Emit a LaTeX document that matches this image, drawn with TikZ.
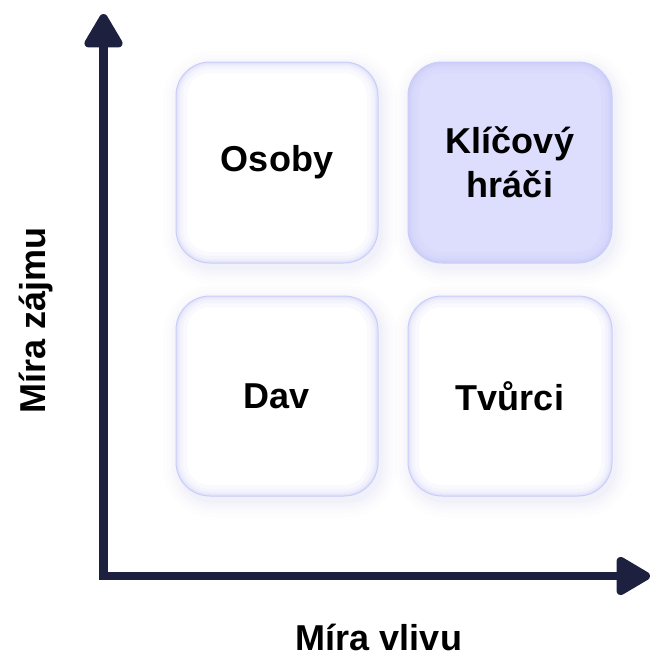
\documentclass[tikz,border=0pt]{standalone}
\usepackage{fontspec}
\setmainfont{Liberation Sans}
\usetikzlibrary{arrows.meta}
\definecolor{axisc}{HTML}{1E2040}
\definecolor{edgec}{HTML}{C9CDF9}
\definecolor{glowc}{HTML}{B4B8F4}
\definecolor{keyfill}{HTML}{DDDEFD}
\tikzset{
  x=1pt, y=-1pt,
  label/.style={font=\bfseries\fontsize{36}{44}\selectfont, text=black, align=center},
  axis/.style={draw=axisc, line width=8.5pt, line join=miter,
    {Triangle[length=38pt,width=42pt,round]}-{Triangle[length=38pt,width=42pt,round]}},
}
% soft card: x1 y1 x2 y2 fill name text
\newcommand\card[7]{%
  \foreach \d/\o in {16/0.015,12/0.025,8/0.035,5/0.045,2/0.06}
    \fill[glowc, opacity=\o, rounded corners={34+\d}]
      ({#1-\d+3},{#2-\d+5}) rectangle ({#3+\d+3},{#4+\d+5});
  \fill[#5, rounded corners=34] (#1,#2) rectangle (#3,#4);
  \begin{scope}
    \clip[rounded corners=34] (#1,#2) rectangle (#3,#4);
    \foreach \w/\o in {22/0.06,14/0.08,8/0.1,4/0.14}
      \draw[glowc, line width=\w pt, opacity=\o, rounded corners=34] (#1,#2) rectangle (#3,#4);
  \end{scope}
  \draw[edgec, line width=1pt, rounded corners=34] (#1,#2) rectangle (#3,#4);
  \node[label] (#6) at ({(#1+#3)/2},{(#2+#4)/2}) {#7};
}
\begin{document}
\begin{tikzpicture}
\useasboundingbox (0,0) rectangle (656,657);
\fill[white] (0,0) rectangle (656,657);

\card{176}{62}{378}{263}{white}{osoby}{Osoby}
\card{408}{62}{612}{263}{keyfill}{klicovy}{Klíčový\\hráči}
\card{176}{296}{378}{496}{white}{dav}{Dav}
\card{408}{296}{612}{496}{white}{tvurci}{Tvůrci}

% axes
\coordinate (ytop) at (103.5,14);
\coordinate (origin) at (103.5,576);
\coordinate (xend) at (650,576);
\draw[axis] (ytop) -- (origin) -- (xend);

\node[label, rotate=90] (ylab) at (36,320) {Míra zájmu};
\node[label] (xlab) at (379,637) {Míra vlivu};
\end{tikzpicture}
\end{document}
